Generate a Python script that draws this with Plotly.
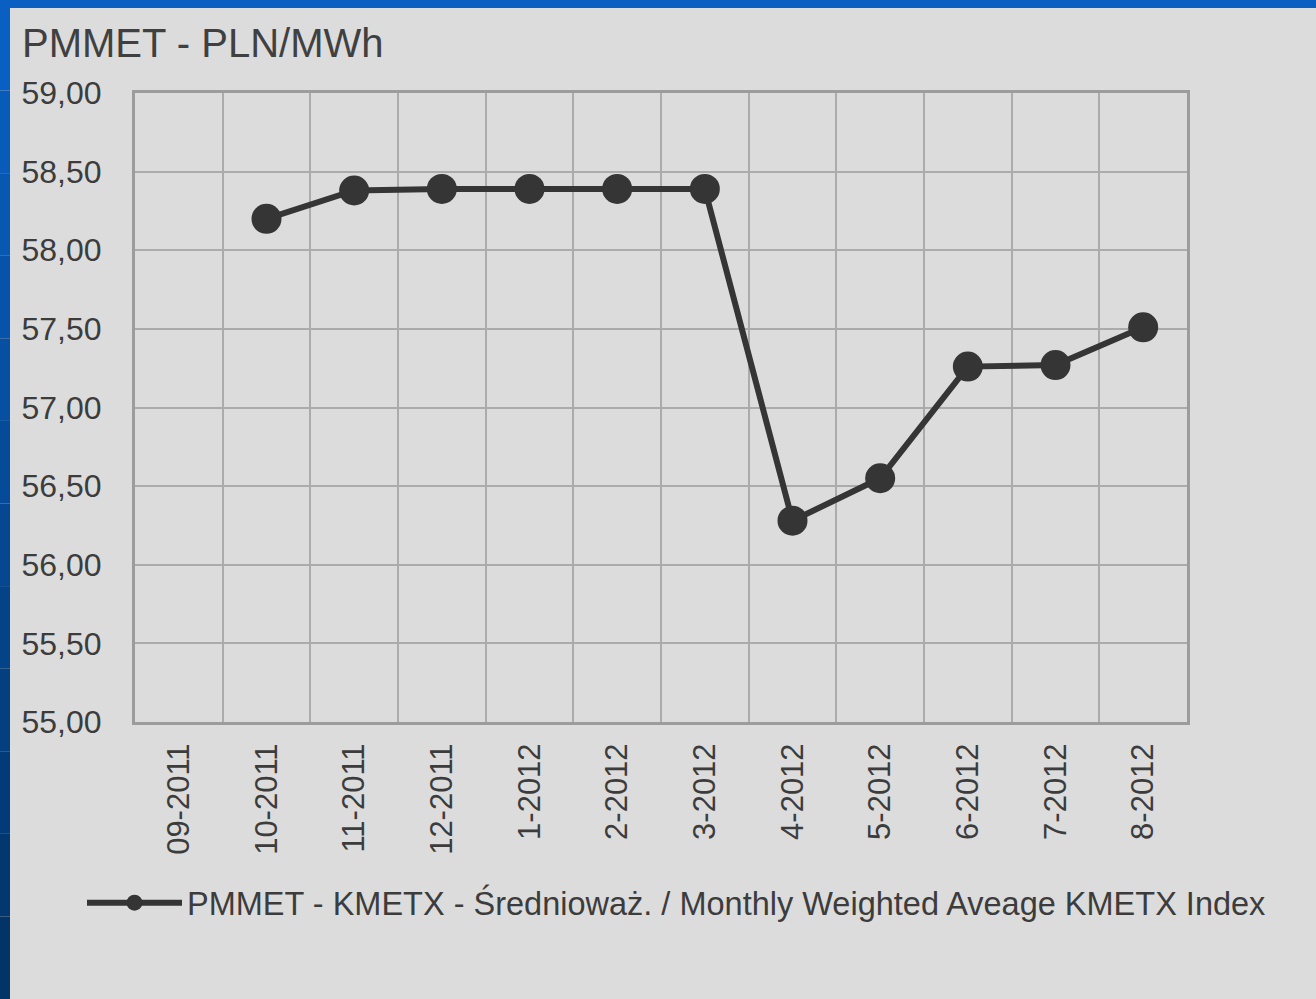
"""
PMMET - KMETX monthly weighted average (PLN/MWh)
"""

import plotly.graph_objects as go

# ─── data ─────────────────────────────────────────
months = [
    "09-2011", "10-2011", "11-2011", "12-2011", "1-2012", "2-2012",
    "3-2012", "4-2012", "5-2012", "6-2012", "7-2012", "8-2012",
]
kmetx = [None, 58.20, 58.38, 58.39, 58.39, 58.39,
         58.39, 56.28, 56.55, 57.26, 57.27, 57.51]

series_name = "PMMET - KMETX - Średnioważ. / Monthly Weighted Aveage KMETX Index"
chart_title = "PMMET - PLN/MWh"

# ─── page geometry (px) ──────────────────────────
W, H = 1316, 999
L, R, T, B = 135, 1187, 93, 722
FONT = "Liberation Sans, Arial, sans-serif"
GRAY_BG = "#dcdcdc"
TXT = "#3c3c3c"


def px(xp):
    return (xp - L) / (R - L)


def py(yp):
    return (B - yp) / (B - T)


fig = go.Figure()
fig.add_trace(go.Scatter(
    x=months,
    y=kmetx,
    mode="lines+markers",
    name=series_name,
    line=dict(color="#353535", width=6),
    marker=dict(color="#353535", size=30),
    connectgaps=False,
))

# 蓝色边框 (上 + 左渐变)
shapes = [dict(type="rect", xref="paper", yref="paper",
               x0=px(0), x1=px(W), y0=py(0), y1=py(8),
               fillcolor="#0a5fc2", line_width=0, layer="above")]
steps = 12
for i in range(steps):
    t = i / (steps - 1)
    r = int(10 + (2 - 10) * t)
    g = int(95 + (52 - 95) * t)
    b = int(194 + (104 - 194) * t)
    shapes.append(dict(type="rect", xref="paper", yref="paper",
                       x0=px(0), x1=px(10),
                       y0=py(8 + (H - 8) * (i + 1) / steps),
                       y1=py(8 + (H - 8) * i / steps),
                       fillcolor=f"rgb({r},{g},{b})", line_width=0, layer="above"))

fig.update_layout(
    width=W,
    height=H,
    margin=dict(l=L, r=W - R, t=T, b=H - B, autoexpand=False),
    paper_bgcolor=GRAY_BG,
    plot_bgcolor=GRAY_BG,
    separators=", ",
    font=dict(family=FONT, color=TXT, size=31),
    title=dict(
        text=chart_title,
        x=22 / W, xanchor="left", xref="container",
        y=1 - 43 / H, yanchor="middle", yref="container",
        font=dict(family=FONT, size=40, color="#404040"),
    ),
    showlegend=True,
    legend=dict(
        orientation="h",
        x=px(82), xanchor="left",
        y=py(903), yanchor="middle",
        itemwidth=95,
        bgcolor="rgba(0,0,0,0)",
        font=dict(family=FONT, size=32.5, color=TXT),
    ),
    shapes=shapes,
)

fig.update_xaxes(
    type="category",
    range=[-0.5, 11.5],
    tickson="boundaries",
    ticks="",
    tickangle=-90,
    ticklabelstandoff=6,
    showgrid=True,
    gridcolor="#ababab",
    gridwidth=2,
    showline=True,
    linecolor="#9c9c9c",
    linewidth=3,
    mirror=True,
    zeroline=False,
    tickfont=dict(family=FONT, size=31, color=TXT),
)
fig.update_yaxes(
    range=[55, 59],
    dtick=0.5,
    tick0=55,
    tickformat=".2f",
    ticks="",
    ticklabelstandoff=24,
    showgrid=True,
    gridcolor="#ababab",
    gridwidth=2,
    showline=True,
    linecolor="#9c9c9c",
    linewidth=3,
    mirror=True,
    zeroline=False,
    tickfont=dict(family=FONT, size=32, color=TXT),
)

fig.write_html(
    "out.html",
    config={"displayModeBar": False},
    post_script="document.body.style.margin='0';",
)
